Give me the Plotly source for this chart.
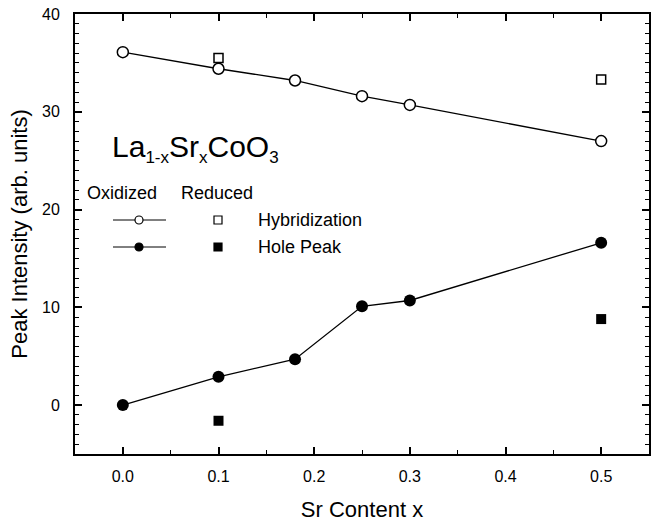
import plotly.graph_objects as go

# Sr content for each sample set
x_oxidized = [0.0, 0.1, 0.18, 0.25, 0.3, 0.5]
x_reduced = [0.1, 0.5]

# Peak intensities (arb. units)
hyb_oxidized = [36.1, 34.4, 33.2, 31.6, 30.7, 27.0]
hole_oxidized = [0.0, 2.9, 4.7, 10.1, 10.7, 16.6]
hyb_reduced = [35.5, 33.3]
hole_reduced = [-1.6, 8.8]

x_ticks = [0.0, 0.1, 0.2, 0.3, 0.4, 0.5]
y_ticks = [0, 10, 20, 30, 40]

W, H = 655, 522
L, R, T, B = 75, 6, 14, 68
FONT = "Arial, Liberation Sans, sans-serif"


def px(xp):
    return (xp - L) / (W - L - R)


def py(yp):
    return (H - B - yp) / (H - T - B)


fig = go.Figure()

fig.add_trace(go.Scatter(
    x=x_oxidized, y=hyb_oxidized, mode="lines+markers",
    line=dict(color="black", width=1.3),
    marker=dict(symbol="circle", size=11, color="white",
                line=dict(color="black", width=1.5)),
    showlegend=False))
fig.add_trace(go.Scatter(
    x=x_oxidized, y=hole_oxidized, mode="lines+markers",
    line=dict(color="black", width=1.3),
    marker=dict(symbol="circle", size=12, color="black"),
    showlegend=False))
fig.add_trace(go.Scatter(
    x=x_reduced, y=hyb_reduced, mode="markers",
    marker=dict(symbol="square", size=9, color="white",
                line=dict(color="black", width=1.5)),
    showlegend=False))
fig.add_trace(go.Scatter(
    x=x_reduced, y=hole_reduced, mode="markers",
    marker=dict(symbol="square", size=10, color="black"),
    showlegend=False))

shapes = []
annotations = []

# formula label
annotations.append(dict(
    xref="paper", yref="paper", x=px(110), y=py(149),
    xanchor="left", yanchor="middle", showarrow=False,
    text="La<sub><span style='font-size:17px'>1-x</span></sub>Sr"
         "<sub><span style='font-size:17px'>x</span></sub>CoO"
         "<sub><span style='font-size:17px'>3</span></sub>",
    font=dict(family=FONT, size=30, color="black")))

# key headers
for label, xp in [("Oxidized", 85), ("Reduced", 179)]:
    annotations.append(dict(
        xref="paper", yref="paper", x=px(xp), y=py(193),
        xanchor="left", yanchor="middle", showarrow=False, text=label,
        font=dict(family=FONT, size=18, color="black")))

# key rows: oxidized line sample, reduced square, name
rows = [("Hybridization", 220, "white"), ("Hole Peak", 247, "black")]
for name, yp, fill in rows:
    shapes.append(dict(type="line", xref="paper", yref="paper",
                       x0=px(113), x1=px(166), y0=py(yp), y1=py(yp),
                       line=dict(color="black", width=1)))
    shapes.append(dict(type="circle", xref="paper", yref="paper",
                       xsizemode="pixel", ysizemode="pixel",
                       xanchor=px(139), yanchor=py(yp),
                       x0=-4, x1=4, y0=-4, y1=4,
                       fillcolor=fill, line=dict(color="black", width=1.2)))
    shapes.append(dict(type="rect", xref="paper", yref="paper",
                       xsizemode="pixel", ysizemode="pixel",
                       xanchor=px(218), yanchor=py(yp),
                       x0=-4, x1=4, y0=-4, y1=4,
                       fillcolor=fill, line=dict(color="black", width=1.2)))
    annotations.append(dict(
        xref="paper", yref="paper", x=px(256), y=py(yp),
        xanchor="left", yanchor="middle", showarrow=False, text=name,
        font=dict(family=FONT, size=18, color="black")))

axis_common = dict(
    showgrid=False, zeroline=False, showline=True, linewidth=2,
    linecolor="black", mirror="allticks", ticks="inside",
    ticklen=7, tickwidth=1.5, tickcolor="black", automargin=False,
    tickfont=dict(family=FONT, size=16, color="black"),
)

fig.update_xaxes(
    **axis_common, range=[-0.05, 0.55], tickvals=x_ticks,
    tickformat=".1f", ticklabelstandoff=7,
    minor=dict(ticks="inside", dtick=0.05, tick0=0, ticklen=4,
               tickwidth=1.2, tickcolor="black"),
    title=dict(text="Sr Content x", standoff=17,
               font=dict(family=FONT, size=22, color="black")))
fig.update_yaxes(
    **axis_common, range=[-5, 40], tickvals=y_ticks,
    ticklabelstandoff=10,
    minor=dict(ticks="inside", dtick=1, tick0=0, ticklen=4,
               tickwidth=1.2, tickcolor="black"),
    title=dict(text="Peak Intensity (arb. units)", standoff=8,
               font=dict(family=FONT, size=22, color="black")))

fig.update_layout(
    width=W, height=H,
    margin=dict(l=L, r=R, t=T, b=B),
    paper_bgcolor="white", plot_bgcolor="white",
    shapes=shapes, annotations=annotations,
)

fig.write_html("out.html")
